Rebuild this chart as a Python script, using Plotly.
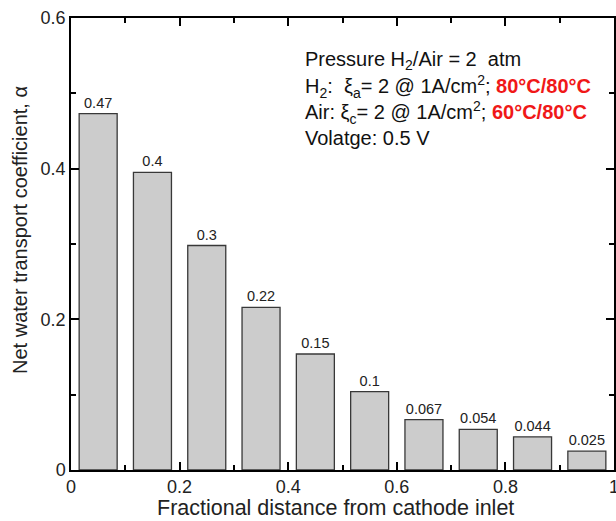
import plotly.graph_objects as go

positions = [0.05, 0.15, 0.25, 0.35, 0.45, 0.55, 0.65, 0.75, 0.85, 0.95]
alpha = [0.473, 0.395, 0.298, 0.216, 0.154, 0.104, 0.067, 0.054, 0.044, 0.025]
labels = ["0.47", "0.4", "0.3", "0.22", "0.15", "0.1", "0.067", "0.054", "0.044", "0.025"]

x_ticks = [0, 0.2, 0.4, 0.6, 0.8, 1]
x_ticktext = ["0", "0.2", "0.4", "0.6", "0.8", "1"]
y_ticks = [0, 0.2, 0.4, 0.6]
y_ticktext = ["0", "0.2", "0.4", "0.6"]

x_title = "Fractional distance from cathode inlet"
y_title = "Net water transport coefficient, α"

info_lines = [
    "Pressure H<sub>2</sub>/Air = 2\u00a0 atm",
    "H<sub>2</sub>:\u00a0 ξ<sub>a</sub>= 2 @ 1A/cm<sup>2</sup>; <span style='color:#f01818'><b>80°C/80°C</b></span>",
    "Air: ξ<sub>c</sub>= 2 @ 1A/cm<sup>2</sup>; <span style='color:#f01818'><b>60°C/80°C</b></span>",
    "Volatge: 0.5 V",
]
info_y = [0.5433, 0.5088, 0.4743, 0.4403]

FONT = "Liberation Sans, Arial, sans-serif"
TXT = "#222222"

fig = go.Figure()
fig.add_trace(go.Bar(
    x=positions, y=alpha, width=0.07,
    marker=dict(color="#cccccc", line=dict(color="#383838", width=1.3)),
    text=labels, textposition="outside", cliponaxis=False,
    textfont=dict(family=FONT, size=14.5, color=TXT),
    showlegend=False, hoverinfo="skip",
))

for line, yy in zip(info_lines, info_y):
    fig.add_annotation(
        x=0.427, y=yy, xref="x", yref="y",
        text=line, showarrow=False, xanchor="left", yanchor="middle",
        font=dict(family=FONT, size=20, color="#111111"),
    )

# axis titles
fig.add_annotation(
    x=0.488, y=-0.085, xref="paper", yref="paper",
    text=x_title, showarrow=False, xanchor="center", yanchor="middle",
    font=dict(family=FONT, size=21.5, color=TXT),
)
fig.add_annotation(
    x=-0.094, y=0.531, xref="paper", yref="paper",
    text=y_title, showarrow=False, xanchor="center", yanchor="middle",
    textangle=-90,
    font=dict(family=FONT, size=20, color=TXT),
)

axis_common = dict(
    showline=True, linecolor="black", linewidth=1.5, mirror="ticks",
    ticks="inside", ticklen=8, tickwidth=1.5, tickcolor="black",
    showgrid=False, zeroline=False, automargin=False,
    ticklabeloverflow="allow",
    tickfont=dict(family=FONT, size=18, color=TXT),
)
minor_common = dict(ticks="inside", ticklen=5, tickwidth=1.5, tickcolor="black", dtick=0.1, showgrid=False)

fig.update_xaxes(range=[0, 1], tickvals=x_ticks, ticktext=x_ticktext,
                 minor=minor_common, **axis_common)
fig.update_yaxes(range=[0, 0.6], tickvals=y_ticks, ticktext=y_ticktext,
                 minor=minor_common, **axis_common)

fig.update_layout(
    width=616, height=521,
    margin=dict(l=71, r=2, t=18, b=51, autoexpand=False),
    plot_bgcolor="white", paper_bgcolor="white",
)

fig.write_html(
    "out.html",
    config={"displayModeBar": False},
    post_script="document.body.style.margin='0';document.documentElement.style.overflow='hidden';",
)
